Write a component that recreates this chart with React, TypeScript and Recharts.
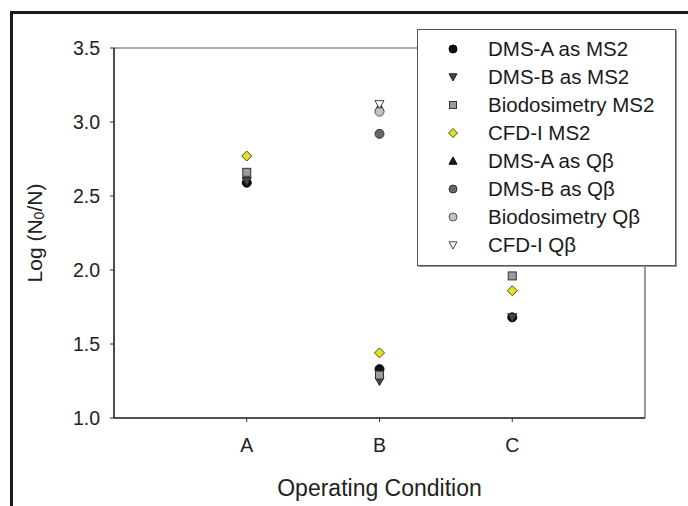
import React from "react";
import {
    ScatterChart, Scatter, XAxis, YAxis, Legend, ReferenceArea,
} from "recharts";

const conditions = ["A", "B", "C"];
const conditionPos = [1, 2, 3];
const yTicks = [1.0, 1.5, 2.0, 2.5, 3.0, 3.5];

// log reductions, one entry per condition (null = not plotted)
const dmsAMs2 = [2.59, 1.33, 1.68];
const dmsBMs2 = [2.60, 1.25, 1.68];
const bioMs2 = [2.66, 1.29, 1.96];
const cfdMs2 = [2.77, 1.44, 1.86];
const dmsAQb = [null, 3.10, null];
const dmsBQb = [null, 2.92, null];
const bioQb = [null, 3.07, null];
const cfdQb = [null, 3.12, null];

type Kind = "circle" | "square" | "diamond" | "triUp" | "triDown";

const SERIES: { name: string; values: (number | null)[]; kind: Kind; fill: string; stroke: string }[] = [
    { name: "DMS-A as MS2", values: dmsAMs2, kind: "circle", fill: "#111", stroke: "#000" },
    { name: "DMS-B as MS2", values: dmsBMs2, kind: "triDown", fill: "#474747", stroke: "#222" },
    { name: "Biodosimetry MS2", values: bioMs2, kind: "square", fill: "#9a9a9a", stroke: "#333" },
    { name: "CFD-I MS2", values: cfdMs2, kind: "diamond", fill: "#e0e41e", stroke: "#4a4a2a" },
    { name: "DMS-A as Q\u03B2", values: dmsAQb, kind: "triUp", fill: "#1c1c1c", stroke: "#000" },
    { name: "DMS-B as Q\u03B2", values: dmsBQb, kind: "circle", fill: "#676767", stroke: "#333" },
    { name: "Biodosimetry Q\u03B2", values: bioQb, kind: "circle", fill: "#b9c6be", stroke: "#555" },
    { name: "CFD-I Q\u03B2", values: cfdQb, kind: "triDown", fill: "#fff", stroke: "#444" },
];

const FONT = "'Liberation Sans', Arial, sans-serif";

function Marker({ cx, cy, kind, fill, stroke, r = 4.5 }: any) {
    if (cx == null || cy == null) return null;
    const common = { fill, stroke, strokeWidth: 1 };
    switch (kind) {
        case "square":
            return <rect x={cx - r + 0.5} y={cy - r + 0.5} width={2 * r - 1} height={2 * r - 1} {...common} />;
        case "diamond":
            return <polygon points={`${cx},${cy - r - 0.5} ${cx + r + 0.5},${cy} ${cx},${cy + r + 0.5} ${cx - r - 0.5},${cy}`} {...common} />;
        case "triUp":
            return <polygon points={`${cx},${cy - r} ${cx + r},${cy + r * 0.8} ${cx - r},${cy + r * 0.8}`} {...common} />;
        case "triDown":
            return <polygon points={`${cx - r},${cy - r * 0.8} ${cx + r},${cy - r * 0.8} ${cx},${cy + r}`} {...common} />;
        default:
            return <circle cx={cx} cy={cy} r={r} {...common} />;
    }
}

// legend keeps the plotting order rather than recharts' sorted payload
function LegendBox() {
    return (
        <div style={{
            width: 259, height: 237, background: "#fff", border: "1px solid #555",
            boxShadow: "1px 1px 0 #999", fontFamily: FONT, boxSizing: "border-box", paddingTop: 5,
        }}>
            {SERIES.map(s => (
                <div key={s.name} style={{ display: "flex", alignItems: "center", height: 28 }}>
                    <svg width={70} height={20}>
                        <Marker cx={35} cy={10} kind={s.kind} fill={s.fill} stroke={s.stroke} r={4} />
                    </svg>
                    <span style={{ fontSize: 20.5, color: "#1a1a1a", whiteSpace: "nowrap" }}>{s.name}</span>
                </div>
            ))}
        </div>
    );
}

function YTitle({ viewBox }: any) {
    const cx = viewBox.x + 34;
    const cy = viewBox.y + viewBox.height / 2;
    return (
        <text x={cx} y={cy} transform={`rotate(-90 ${cx} ${cy})`} textAnchor="middle"
            dominantBaseline="central" fontSize={21} fill="#222" fontFamily={FONT}>
            Log (N<tspan fontSize={14} dy={5}>0</tspan><tspan dy={-5}>/N)</tspan>
        </text>
    );
}

export default function App() {
    return (
        <div style={{ position: "absolute", left: 0, top: 0, width: 688, height: 506, overflow: "hidden", background: "#fff" }}>
            <div style={{
                position: "absolute", left: 10, top: 11, width: 700, height: 520,
                borderLeft: "3px solid #1b1b1b", borderTop: "3px solid #1b1b1b",
            }} />
            <ScatterChart width={688} height={506} margin={{ top: 48, right: 43, bottom: 0, left: 0 }}
                style={{ position: "absolute", left: 0, top: 0, fontFamily: FONT }}>
                <ReferenceArea x1={0} x2={4} y1={1} y2={3.5} fill="none" stroke="#555" strokeWidth={1.2} ifOverflow="visible" />
                <XAxis
                    type="number" dataKey="x" domain={[0, 4]} ticks={conditionPos}
                    tickFormatter={(v: number) => conditions[v - 1]}
                    height={88} tickSize={4} tickMargin={16}
                    axisLine={{ stroke: "#333", strokeWidth: 1.5 }}
                    tickLine={{ stroke: "#333" }}
                    tick={{ fontSize: 19.5, fill: "#222" }}
                    label={{ value: "Operating Condition", position: "insideBottom", offset: 10, fontSize: 23, fill: "#222" }}
                />
                <YAxis
                    type="number" dataKey="y" domain={[1, 3.5]} ticks={yTicks}
                    tickFormatter={(v: number) => v.toFixed(1)}
                    width={114} tickSize={4} tickMargin={10}
                    axisLine={{ stroke: "#333", strokeWidth: 1.5 }}
                    tickLine={{ stroke: "#333" }}
                    tick={{ fontSize: 19.5, fill: "#222" }}
                    label={{ content: <YTitle /> }}
                />
                <Legend layout="vertical" align="center" verticalAlign="middle"
                    content={<LegendBox />}
                    wrapperStyle={{ left: 417, top: 29, width: 259, height: 237 }} />
                {SERIES.map(s => (
                    <Scatter
                        key={s.name}
                        name={s.name}
                        data={s.values.flatMap((v, i) => (v == null ? [] : [{ x: conditionPos[i], y: v }]))}
                        fill={s.fill}
                        isAnimationActive={false}
                        shape={(props: any) => <Marker cx={props.cx} cy={props.cy} kind={s.kind} fill={s.fill} stroke={s.stroke} />}
                    />
                ))}
            </ScatterChart>
        </div>
    );
}
